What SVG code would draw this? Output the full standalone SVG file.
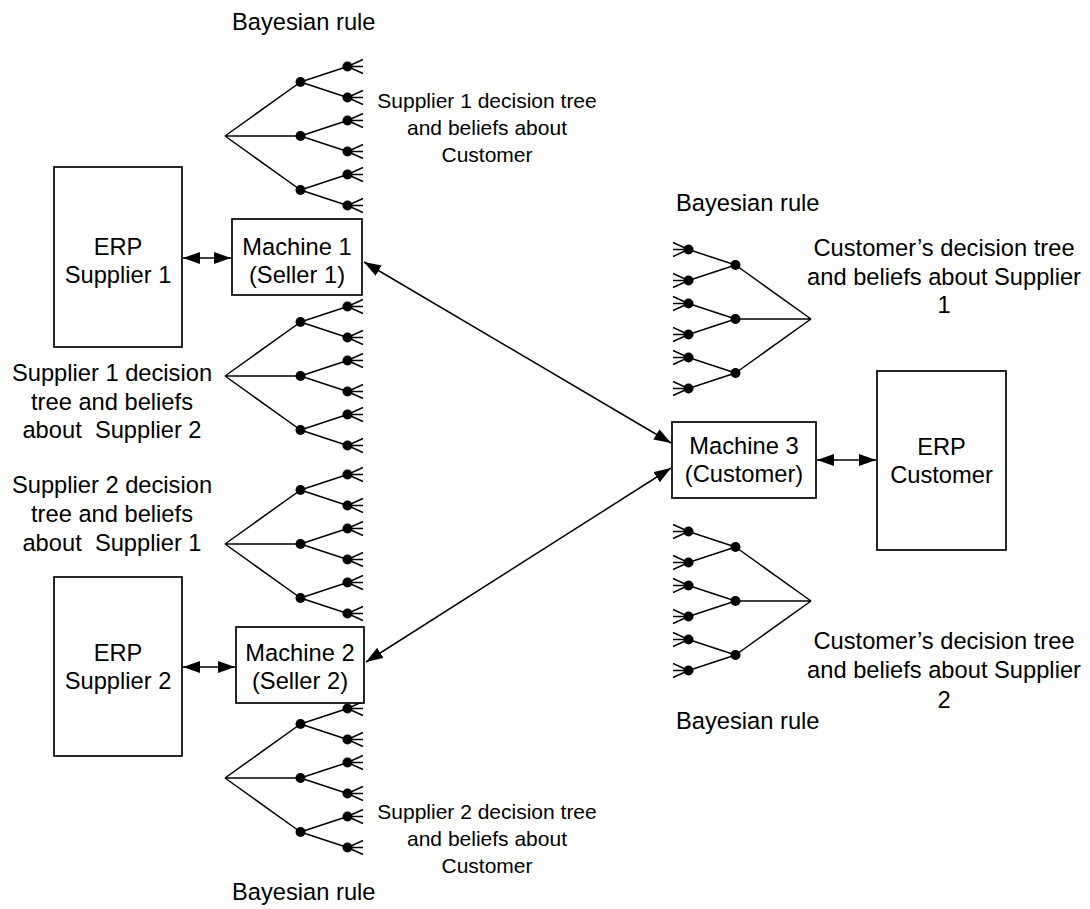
<svg xmlns="http://www.w3.org/2000/svg" width="1090" height="909" viewBox="0 0 1090 909">
<style>
text{font-family:"Liberation Sans",Arial,sans-serif;font-size:23.7px;fill:#000}
.sm{font-size:21px}
.c{text-anchor:middle}
.box{fill:#fff;stroke:#000;stroke-width:1.7}
.ln{fill:none;stroke:#000;stroke-width:1.5}
.tr{fill:none;stroke:#000;stroke-width:1.5}
</style>
<defs>
<marker id="ah" viewBox="0 0 17 12" refX="17" refY="6" markerWidth="17" markerHeight="12" markerUnits="userSpaceOnUse" orient="auto-start-reverse">
<path d="M0,0L17,6L0,12z" fill="#000"/>
</marker>
<g id="tree">
<path class="tr" d="M0,0L75.5,-54M0,0H75.5M0,0L75.5,54M75.5,-54L122.5,-69.5M75.5,-54L122.5,-38.5M75.5,0L122.5,-15.5M75.5,0L122.5,15.5M75.5,54L122.5,38.5M75.5,54L122.5,69.5M138,-76.5L122.5,-69.5L138,-62.5M122.5,-69.5H138M138,-45.5L122.5,-38.5L138,-31.5M122.5,-38.5H138M138,-22.5L122.5,-15.5L138,-8.5M122.5,-15.5H138M138,8.5L122.5,15.5L138,22.5M122.5,15.5H138M138,31.5L122.5,38.5L138,45.5M122.5,38.5H138M138,62.5L122.5,69.5L138,76.5M122.5,69.5H138"/>
<g fill="#000">
<circle cx="75.5" cy="-54" r="5"/><circle cx="75.5" cy="0" r="5"/><circle cx="75.5" cy="54" r="5"/>
<circle cx="122.5" cy="-69.5" r="5"/><circle cx="122.5" cy="-38.5" r="5"/><circle cx="122.5" cy="-15.5" r="5"/>
<circle cx="122.5" cy="15.5" r="5"/><circle cx="122.5" cy="38.5" r="5"/><circle cx="122.5" cy="69.5" r="5"/>
</g>
</g>
</defs>
<rect width="1090" height="909" fill="#fff"/>

<g id="tree-s1-customer">
<use href="#tree" transform="translate(225 136)"/>
<text x="232" y="30">Bayesian rule</text>
<text class="sm c" x="487" y="108">Supplier 1 decision tree</text>
<text class="sm c" x="487" y="135">and beliefs about</text>
<text class="sm c" x="487" y="162">Customer</text>
</g>

<g id="tree-s1-s2">
<use href="#tree" transform="translate(225 376)"/>
<text class="c" x="112" y="381">Supplier 1 decision</text>
<text class="c" x="112" y="410">tree and beliefs</text>
<text class="c" x="112" y="438" xml:space="preserve">about  Supplier 2</text>
</g>

<g id="tree-s2-s1">
<use href="#tree" transform="translate(225 544)"/>
<text class="c" x="112" y="493">Supplier 2 decision</text>
<text class="c" x="112" y="522">tree and beliefs</text>
<text class="c" x="112" y="551" xml:space="preserve">about  Supplier 1</text>
</g>

<g id="tree-s2-customer">
<use href="#tree" transform="translate(225 778)"/>
<text class="sm c" x="487" y="819">Supplier 2 decision tree</text>
<text class="sm c" x="487" y="846">and beliefs about</text>
<text class="sm c" x="487" y="873">Customer</text>
<text x="232" y="900">Bayesian rule</text>
</g>

<g id="tree-c-s1">
<use href="#tree" transform="translate(811 319) scale(-1 1)"/>
<text x="676" y="211">Bayesian rule</text>
<text class="c" x="944" y="256">Customer’s decision tree</text>
<text class="c" x="944" y="284.5">and beliefs about Supplier</text>
<text class="c" x="944" y="313">1</text>
</g>

<g id="tree-c-s2">
<use href="#tree" transform="translate(811 601) scale(-1 1)"/>
<text class="c" x="944" y="649">Customer’s decision tree</text>
<text class="c" x="944" y="678">and beliefs about Supplier</text>
<text class="c" x="944" y="707.5">2</text>
<text x="676" y="729">Bayesian rule</text>
</g>

<g id="erp-supplier1">
<rect class="box" x="54" y="167" width="128" height="180"/>
<text class="c" x="118" y="255">ERP</text>
<text class="c" x="118" y="283">Supplier 1</text>
</g>

<g id="machine1">
<rect class="box" x="232" y="219" width="130" height="76"/>
<text class="c" x="297" y="255">Machine 1</text>
<text class="c" x="297" y="283">(Seller 1)</text>
</g>

<g id="erp-supplier2">
<rect class="box" x="54" y="577" width="128" height="179"/>
<text class="c" x="118" y="661">ERP</text>
<text class="c" x="118" y="689">Supplier 2</text>
</g>

<g id="machine2">
<rect class="box" x="236" y="627" width="128" height="76"/>
<text class="c" x="300" y="661">Machine 2</text>
<text class="c" x="300" y="689">(Seller 2)</text>
</g>

<g id="machine3">
<rect class="box" x="672" y="422" width="144" height="76"/>
<text class="c" x="744" y="454">Machine 3</text>
<text class="c" x="744" y="482">(Customer)</text>
</g>

<g id="erp-customer">
<rect class="box" x="877" y="371" width="129" height="179"/>
<text class="c" x="941.5" y="455">ERP</text>
<text class="c" x="941.5" y="483">Customer</text>
</g>

<g id="connectors">
<line class="ln" x1="183" y1="258" x2="231" y2="258" marker-start="url(#ah)" marker-end="url(#ah)"/>
<line class="ln" x1="183" y1="667" x2="235" y2="667" marker-start="url(#ah)" marker-end="url(#ah)"/>
<line class="ln" x1="817" y1="460" x2="876" y2="460" marker-start="url(#ah)" marker-end="url(#ah)"/>
<line class="ln" x1="364" y1="262" x2="671" y2="443" marker-start="url(#ah)" marker-end="url(#ah)"/>
<line class="ln" x1="366" y1="662" x2="671" y2="468" marker-start="url(#ah)" marker-end="url(#ah)"/>
</g>
</svg>
